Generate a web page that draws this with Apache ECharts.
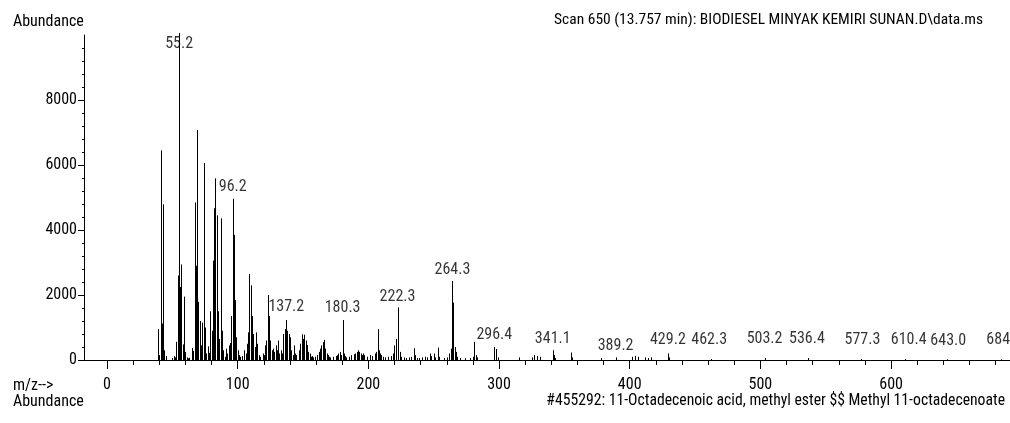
<!DOCTYPE html>
<html>
<head>
<meta charset="utf-8">
<script src="https://cdn.jsdelivr.net/npm/echarts@6/dist/echarts.min.js"></script>
<style>
html,body{margin:0;padding:0;background:#ffffff;}
#chart{width:1010px;height:423px;}
</style>
</head>
<body>
<div id="chart"></div>
<script>
// ---- DATA ----
const mz = [
  39,40,41,42,43,44,45,50,51,52,53,54,55.2,56,57,58,59,60,61,62,63,65,66,67,68,69,70,71,72,73,74,75,76,77,78,79,80,
  81,82,83,84,85,86,87,88,89,90,91,92,93,94,95,96.2,97,98,99,100,101,102,103,105,106,107,108,109,110,111,112,113,114,115,116,117,119,120,
  121,122,123,124,125,126,127,128,129,130,131,132,133,134,135,136,137.2,138,139,140,141,142,143,144,145,147,148,149,150,151,152,153,154,155,156,157,158,159,
  161,162,163,164,165,166,167,168,169,170,171,173,175,176,177,178,179,180.3,181,182,183,185,187,189,190,191,192,193,194,195,196,197,199,
  201,203,205,206,207,208,209,210,211,213,215,217,219,220,221,222.3,223,224,225,227,229,231,233,235,236,237,239,241,243,245,247,248,250,251,253,254,258,260,
  262,263,264.3,265,266,267,268,270,274,278,280,281,282,283,296.4,298,299,315,325,327,329,331,341.1,342,343,355,356,378,389.2,
  402,404,406,412,414,416,429.2,430,462.3,503.2,536.4,577.3,610.4,643.0,684.3
];
const abundance = [
  950,150,6450,1120,4790,300,120,60,120,80,560,2600,10060,2250,2940,480,1950,250,80,50,70,370,280,4850,2900,7080,1790,1200,450,1150,6060,1000,200,420,220,1500,900,
  3060,4670,5590,4450,1500,650,4360,900,300,100,350,200,450,520,1350,4960,3850,1840,700,300,150,100,120,300,200,500,850,2650,2300,1350,800,400,850,500,150,100,200,150,
  450,600,2000,1350,600,300,350,250,450,300,600,200,300,200,800,950,1230,900,800,700,300,150,450,200,150,300,500,790,650,780,600,460,250,200,100,120,80,100,
  150,250,350,450,550,620,350,200,150,100,80,100,120,150,200,250,150,1230,200,120,80,100,150,180,200,250,300,250,200,150,200,150,100,
  150,120,200,250,950,300,200,150,100,80,100,120,200,450,650,1620,500,250,100,80,60,80,100,360,150,60,60,80,100,80,200,120,200,80,380,100,60,80,
  200,350,2430,1770,400,250,100,60,50,60,100,560,150,80,400,340,80,80,80,150,120,100,300,150,60,230,80,60,80,
  100,130,100,80,60,80,200,80,30,60,60,30,30,20,20
];
const labelMz = [55.2, 96.2, 137.2, 180.3, 222.3, 264.3, 296.4, 341.1, 389.2, 429.2, 462.3, 503.2, 536.4, 577.3, 610.4, 643.0, 684.3];
const labelText = ['55.2','96.2','137.2','180.3','222.3','264.3','296.4','341.1','389.2','429.2','462.3','503.2','536.4','577.3','610.4','643.0','684.3'];
const xMajorTicks = [0, 100, 200, 300, 400, 500, 600];
const xMinorTicks = [20,40,60,80,120,140,160,180,220,240,260,280,320,340,360,380,420,440,460,480,520,540,560,580,620,640,660,680];
const yMajorTicks = [0, 2000, 4000, 6000, 8000];
const yMinorTicks = [400,800,1200,1600,2400,2800,3200,3600,4400,4800,5200,5600,6400,6800,7200,7600,8400,8800,9200,9600];
const titleText = 'Scan 650 (13.757 min): BIODIESEL MINYAK KEMIRI SUNAN.D\\data.ms';
const libraryText = '#455292: 11-Octadecenoic acid, methyl ester $$ Methyl 11-octadecenoate';

// ---- STYLE / LAYOUT ----
const FAMILY = 'Roboto,"Open Sans",sans-serif';
const STRETCH = 'condensed';
const FS = 16;
const gfont = function (size) { return STRETCH + ' ' + size + 'px ' + FAMILY; };
const labelStyleFor = {
  '55.2': {position: 'bottom', distance: 3},
  '96.2': {distance: 4},
  '137.2': {distance: 5},
  '180.3': {distance: 4},
  '222.3': {distance: 2},
  '264.3': {distance: 3},
  '296.4': {distance: 4},
  '341.1': {distance: 3},
  '389.2': {distance: 3},
  '429.2': {distance: 6},
  '462.3': {distance: 11, offset: [-2, 0]},
  '503.2': {distance: 11},
  '536.4': {distance: 11, offset: [-1, 0]},
  '577.3': {distance: 11, offset: [1, 0]},
  '610.4': {distance: 11, offset: [4, 0]},
  '643.0': {distance: 10, offset: [1, 0]},
  '684.3': {distance: 11, offset: [3, 0]}
};

const peaks = mz.map((m, i) => [m, abundance[i]]);
const labelData = labelMz.map((m, i) => {
  const idx = mz.indexOf(m);
  const s = labelStyleFor[labelText[i]] || {};
  return {
    value: [m, abundance[idx]],
    label: Object.assign({show: true, position: 'top', formatter: labelText[i]}, s)
  };
});

const chart = echarts.init(document.getElementById('chart'), null, {renderer: 'canvas'});
const axisCommon = {
  type: 'value',
  splitLine: {show: false},
  axisLine: {show: false, onZero: false},
  axisLabel: {show: false}
};
const labelFont = {color: '#000', fontFamily: FAMILY, fontWeight: STRETCH, fontSize: FS};
const option = {
  animation: false,
  backgroundColor: '#ffffff',
  grid: {left: 84, right: 0, top: 35, bottom: 63, containLabel: false},
  xAxis: [
    {
      type: 'value', min: -17.6, max: 691, position: 'bottom',
      splitLine: {show: false},
      axisLine: {show: true, onZero: false, lineStyle: {color: '#000', width: 1}},
      axisTick: {show: true, length: 9, customValues: xMajorTicks, lineStyle: {color: '#000', width: 1}},
      axisLabel: Object.assign({show: true, customValues: xMajorTicks, margin: 17}, labelFont)
    },
    Object.assign({}, axisCommon, {
      min: -17.6, max: 691, position: 'bottom',
      axisTick: {show: true, length: 5, customValues: xMinorTicks, lineStyle: {color: '#000', width: 1}}
    })
  ],
  yAxis: [
    {
      type: 'value', min: 0, max: 10000, position: 'left',
      splitLine: {show: false},
      axisLine: {show: true, onZero: false, lineStyle: {color: '#000', width: 1}},
      axisTick: {show: true, length: 6, customValues: yMajorTicks, lineStyle: {color: '#000', width: 1}},
      axisLabel: Object.assign({show: true, customValues: yMajorTicks, margin: 7,
                  formatter: function (v) { return String(v); }}, labelFont)
    },
    Object.assign({}, axisCommon, {
      min: 0, max: 10000, position: 'left',
      axisTick: {show: true, length: 2, customValues: yMinorTicks, lineStyle: {color: '#000', width: 1}}
    })
  ],
  series: [
    {
      type: 'custom',
      xAxisIndex: 0, yAxisIndex: 0,
      data: peaks,
      clip: false,
      renderItem: function (params, api) {
        const top = api.coord([api.value(0), api.value(1)]);
        const base = api.coord([api.value(0), 0]);
        const px = Math.round(top[0]) + 0.5;
        return {
          type: 'line',
          shape: {x1: px, y1: base[1], x2: px, y2: top[1]},
          style: {stroke: '#000', lineWidth: 1}
        };
      }
    },
    {
      type: 'scatter',
      xAxisIndex: 0, yAxisIndex: 0,
      symbolSize: 0,
      clip: false,
      itemStyle: {color: 'rgba(0,0,0,0)'},
      label: labelFont,
      data: labelData,
      z: 5
    }
  ],
  graphic: [
    {type: 'text', left: 13, top: 14, style: {text: 'Abundance', fill: '#000', font: gfont(16)}},
    {type: 'text', right: 27, top: 12, style: {text: titleText, fill: '#000', font: gfont(15.5)}},
    {type: 'text', left: 13, top: 378, style: {text: 'm/z-->', fill: '#000', font: gfont(16)}},
    {type: 'text', left: 13, top: 394, style: {text: 'Abundance', fill: '#000', font: gfont(16)}},
    {type: 'text', right: 5, top: 393, style: {text: libraryText, fill: '#000', font: gfont(15.7)}}
  ]
};
chart.setOption(option);
</script>
</body>
</html>
